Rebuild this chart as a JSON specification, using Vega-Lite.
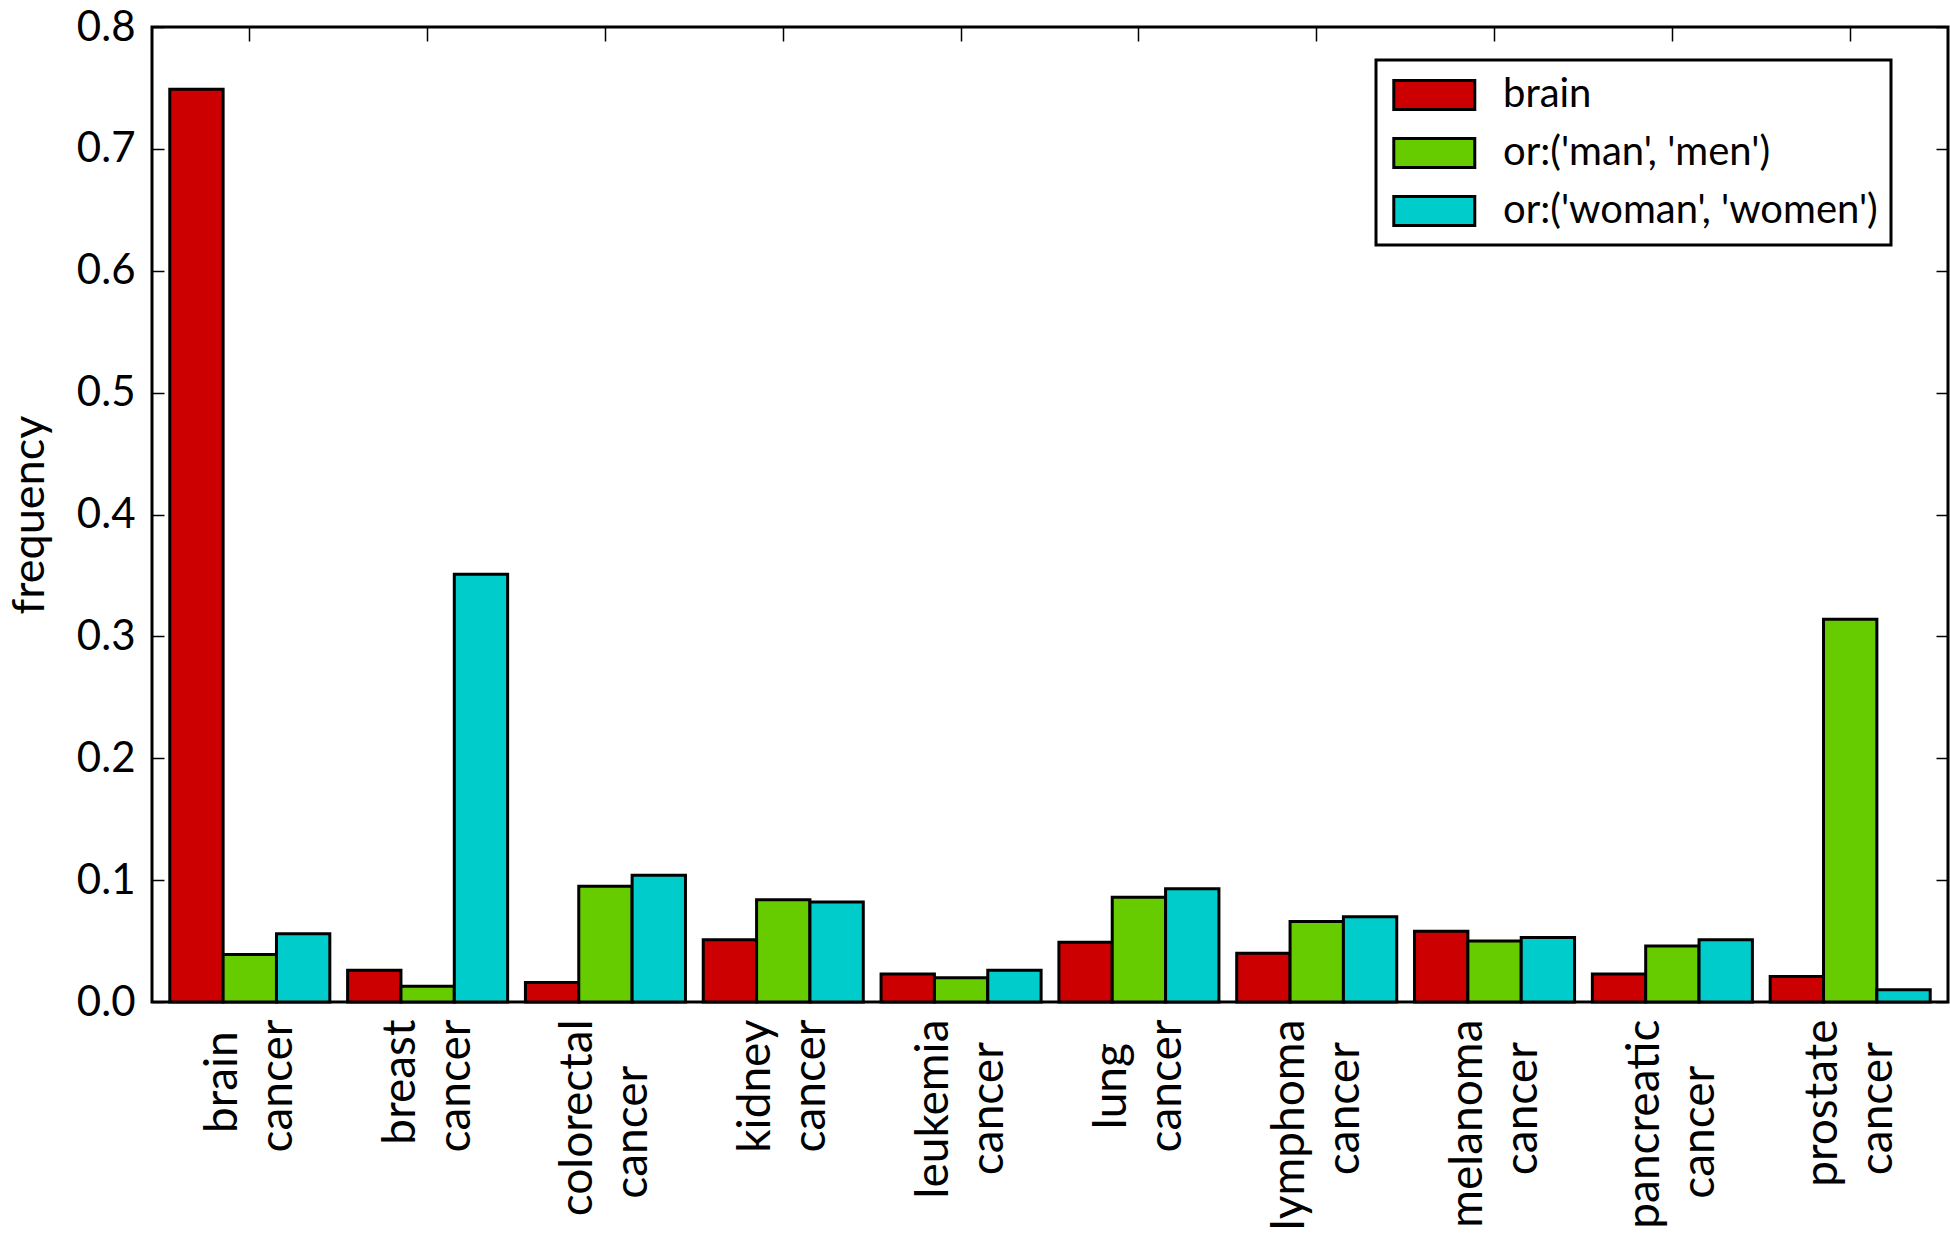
{
  "$schema": "https://vega.github.io/schema/vega-lite/v6.json",
  "width": 1796,
  "height": 975,
  "autosize": {"type": "none"},
  "padding": {"left": 152, "top": 27, "right": 2, "bottom": 239},
  "background": "white",
  "data": {
    "values": [
      {"cancer": "brain cancer", "series": "brain", "frequency": 0.749},
      {"cancer": "brain cancer", "series": "or:('man', 'men')", "frequency": 0.039},
      {"cancer": "brain cancer", "series": "or:('woman', 'women')", "frequency": 0.056},
      {"cancer": "breast cancer", "series": "brain", "frequency": 0.026},
      {"cancer": "breast cancer", "series": "or:('man', 'men')", "frequency": 0.013},
      {"cancer": "breast cancer", "series": "or:('woman', 'women')", "frequency": 0.351},
      {"cancer": "colorectal cancer", "series": "brain", "frequency": 0.016},
      {"cancer": "colorectal cancer", "series": "or:('man', 'men')", "frequency": 0.095},
      {"cancer": "colorectal cancer", "series": "or:('woman', 'women')", "frequency": 0.104},
      {"cancer": "kidney cancer", "series": "brain", "frequency": 0.051},
      {"cancer": "kidney cancer", "series": "or:('man', 'men')", "frequency": 0.084},
      {"cancer": "kidney cancer", "series": "or:('woman', 'women')", "frequency": 0.082},
      {"cancer": "leukemia cancer", "series": "brain", "frequency": 0.023},
      {"cancer": "leukemia cancer", "series": "or:('man', 'men')", "frequency": 0.020},
      {"cancer": "leukemia cancer", "series": "or:('woman', 'women')", "frequency": 0.026},
      {"cancer": "lung cancer", "series": "brain", "frequency": 0.049},
      {"cancer": "lung cancer", "series": "or:('man', 'men')", "frequency": 0.086},
      {"cancer": "lung cancer", "series": "or:('woman', 'women')", "frequency": 0.093},
      {"cancer": "lymphoma cancer", "series": "brain", "frequency": 0.040},
      {"cancer": "lymphoma cancer", "series": "or:('man', 'men')", "frequency": 0.066},
      {"cancer": "lymphoma cancer", "series": "or:('woman', 'women')", "frequency": 0.070},
      {"cancer": "melanoma cancer", "series": "brain", "frequency": 0.058},
      {"cancer": "melanoma cancer", "series": "or:('man', 'men')", "frequency": 0.050},
      {"cancer": "melanoma cancer", "series": "or:('woman', 'women')", "frequency": 0.053},
      {"cancer": "pancreatic cancer", "series": "brain", "frequency": 0.023},
      {"cancer": "pancreatic cancer", "series": "or:('man', 'men')", "frequency": 0.046},
      {"cancer": "pancreatic cancer", "series": "or:('woman', 'women')", "frequency": 0.051},
      {"cancer": "prostate cancer", "series": "brain", "frequency": 0.021},
      {"cancer": "prostate cancer", "series": "or:('man', 'men')", "frequency": 0.314},
      {"cancer": "prostate cancer", "series": "or:('woman', 'women')", "frequency": 0.010}
    ]
  },
  "layer": [
    {
      "mark": {"type": "bar", "stroke": "black", "strokeWidth": 3},
      "encoding": {
        "x": {
          "field": "cancer", "type": "nominal", "sort": null,
          "scale": {"paddingInner": 0.1, "paddingOuter": 0.1},
          "axis": {
            "orient": "bottom", "title": null,
            "labelAngle": 270, "labelAlign": "right", "labelBaseline": "middle",
            "labelExpr": "[pad(split(datum.label,' ')[0], length(split(datum.label,' ')[0]) + round(0.9*max(0, length(split(datum.label,' ')[1]) - length(split(datum.label,' ')[0]))), '\u00a0') + '\u200b', pad(split(datum.label,' ')[1], length(split(datum.label,' ')[1]) + round(0.9*max(0, length(split(datum.label,' ')[0]) - length(split(datum.label,' ')[1]))), '\u00a0') + '\u200b']",
            "labelFontSize": 46,
            "labelLineHeight": 55, "labelPadding": 31, "labelOffset": -27, "labelLimit": 0,
            "labelOverlap": false, "labelFlush": false,
            "tickSize": -14
          }
        },
        "xOffset": {"field": "series", "type": "nominal", "sort": null, "scale": {"paddingInner": 0, "paddingOuter": 0}},
        "y": {
          "field": "frequency", "type": "quantitative",
          "scale": {"domain": [0, 0.8], "nice": false, "zero": true},
          "axis": {
            "orient": "left", "title": "frequency", "titleFontSize": 45, "titleFontWeight": "normal",
            "titleColor": "black", "titleFont": "Lato", "titlePadding": 24,
            "values": [0, 0.1, 0.2, 0.3, 0.4, 0.5, 0.6, 0.7, 0.8], "format": ".1f",
            "labelFontSize": 42,
            "labelPadding": 29, "tickSize": -12, "labelFlush": false, "labelOverlap": false
          }
        },
        "color": {
          "field": "series", "type": "nominal", "sort": null,
          "scale": {"domain": ["brain", "or:('man', 'men')", "or:('woman', 'women')"], "range": ["#cc0000", "#66cc00", "#00cccc"]},
          "legend": {
            "title": null, "orient": "none", "legendX": 1224, "legendY": 33, "direction": "vertical",
            "symbolType": "M-0.85,-0.72H3.15V0.72H-0.85Z", "symbolSize": 1640,
            "symbolStrokeColor": "black", "symbolStrokeWidth": 3, "symbolOpacity": 1,
            "labelFontSize": 40, "labelFont": "Lato", "labelColor": "black", "labelOffset": 70, "labelLimit": 0,
            "rowPadding": 15, "padding": 13,
            "strokeColor": "black", "fillColor": "white"
          }
        }
      }
    },
    {
      "mark": {"type": "bar", "opacity": 0},
      "encoding": {
        "x": {"field": "cancer", "type": "nominal", "sort": null, "axis": {"orient": "top", "title": null, "labels": false, "tickSize": -14}},
        "xOffset": {"field": "series", "type": "nominal", "sort": null},
        "y": {"field": "frequency", "type": "quantitative", "axis": {"orient": "right", "title": null, "labels": false, "tickSize": -12, "values": [0, 0.1, 0.2, 0.3, 0.4, 0.5, 0.6, 0.7, 0.8]}}
      }
    }
  ],
  "resolve": {"axis": {"x": "independent", "y": "independent"}},
  "config": {
    "font": "Lato",
    "view": {"stroke": "black", "strokeWidth": 3},
    "legend": {"strokeWidth": 3},
    "axis": {
      "grid": false, "domain": false, "ticks": true, "tickColor": "black", "tickWidth": 1.5,
      "labelColor": "black", "labelFontSize": 40, "labelFont": "Lato", "zindex": 1
    }
  }
}
